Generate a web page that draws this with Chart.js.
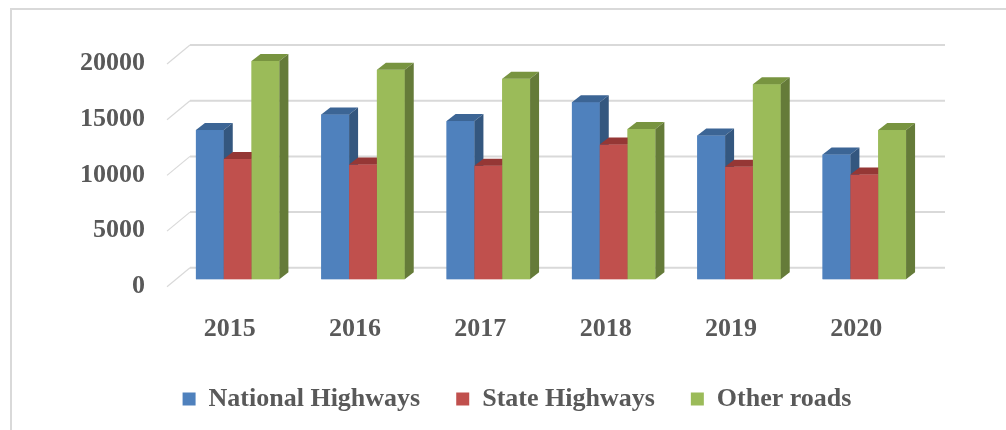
<!DOCTYPE html>
<html>
<head>
<meta charset="utf-8">
<script src="https://cdn.jsdelivr.net/npm/chart.js@4/dist/chart.umd.min.js"></script>
<style>
    html, body { margin: 0; padding: 0; background: #ffffff; }
    #wrap { position: relative; width: 1006px; height: 430px; overflow: hidden; }
    #frame {
        position: absolute; left: 10px; top: 8px; right: -4px; bottom: -4px;
        border-top: 2px solid #d9d9d9; border-left: 2px solid #d9d9d9;
    }
    canvas { position: absolute; left: 0; top: 0; }
</style>
</head>
<body>
<div id="wrap">
    <div id="frame"></div>
    <canvas id="roadChart" width="1006" height="430"></canvas>
</div>
<script>
const years = ['2015', '2016', '2017', '2018', '2019', '2020'];
const seriesNames = ['National Highways', 'State Highways', 'Other roads'];
const nationalHighways = [13400, 14800, 14200, 15900, 12900, 11200];
const stateHighways = [10800, 10300, 10200, 12100, 10100, 9400];
const otherRoads = [19600, 18800, 18000, 13500, 17500, 13400];
const yTicks = [0, 5000, 10000, 15000, 20000];

const frontColors = ['#4f81bd', '#c0504d', '#9bbb59'];
const topColors = ['#3c6595', '#953735', '#789440'];
const sideColors = ['#34577f', '#8a3533', '#657b39'];
const textColor = '#595959';
const gridColor = '#d9d9d9';

// depth of the fake 3D look
const depthX = 9;
const depthY = 7;

// back wall grid + diagonal floor edges
const wallGrid = {
    id: 'wallGrid',
    beforeDatasetsDraw(chart) {
        const { ctx, chartArea, scales } = chart;
        ctx.save();
        ctx.strokeStyle = gridColor;
        yTicks.forEach(v => {
            const yp = scales.y.getPixelForValue(v);
            ctx.lineWidth = 2;
            ctx.beginPath();
            ctx.moveTo(chartArea.left + 15, yp - 11.5);
            ctx.lineTo(chartArea.right + 18, yp - 11.5);
            ctx.stroke();
            ctx.lineWidth = 1.2;
            ctx.beginPath();
            ctx.moveTo(chartArea.left - 8, yp + 7.5);
            ctx.lineTo(chartArea.left + 15, yp - 11.5);
            ctx.stroke();
        });
        ctx.restore();
    }
};

// chart.js paints datasets last-to-first, so repaint each bar here
// in series order with its top and side faces
const barFaces = {
    id: 'barFaces',
    afterDatasetsDraw(chart) {
        const ctx = chart.ctx;
        ctx.save();
        chart.data.datasets.forEach((ds, i) => {
            const meta = chart.getDatasetMeta(i);
            meta.data.forEach(bar => {
                const { x, y, base, width } = bar.getProps(['x', 'y', 'base', 'width'], true);
                const left = x - width / 2;
                const right = x + width / 2;
                ctx.fillStyle = frontColors[i];
                ctx.fillRect(left, y, width, base - y);
                ctx.fillStyle = topColors[i];
                ctx.beginPath();
                ctx.moveTo(left, y);
                ctx.lineTo(left + depthX, y - depthY);
                ctx.lineTo(right + depthX, y - depthY);
                ctx.lineTo(right, y);
                ctx.closePath();
                ctx.fill();
                ctx.fillStyle = sideColors[i];
                ctx.beginPath();
                ctx.moveTo(right, y);
                ctx.lineTo(right + depthX, y - depthY);
                ctx.lineTo(right + depthX, base - depthY);
                ctx.lineTo(right, base);
                ctx.closePath();
                ctx.fill();
            });
        });
        ctx.restore();
    }
};

const serifBold = { family: "'Liberation Serif', 'Times New Roman', serif", size: 26, weight: 'bold' };

new Chart(document.getElementById('roadChart'), {
    type: 'bar',
    data: {
        labels: years,
        datasets: [
            { label: seriesNames[0], data: nationalHighways, backgroundColor: frontColors[0] },
            { label: seriesNames[1], data: stateHighways, backgroundColor: frontColors[1] },
            { label: seriesNames[2], data: otherRoads, backgroundColor: frontColors[2] }
        ]
    },
    options: {
        responsive: false,
        animation: false,
        categoryPercentage: 0.666,
        barPercentage: 1,
        layout: { padding: { left: 28, right: 0, top: 56.5, bottom: 8 } },
        plugins: {
            legend: {
                position: 'bottom',
                labels: {
                    boxWidth: 13,
                    boxHeight: 13,
                    padding: 36,
                    font: serifBold,
                    color: textColor
                }
            },
            tooltip: { enabled: false }
        },
        scales: {
            x: {
                grid: { display: false, drawTicks: false },
                border: { display: false },
                ticks: { font: serifBold, color: textColor, padding: 34, labelOffset: -8 },
                afterFit(scale) { scale.height = 70.7; }
            },
            y: {
                min: 0,
                max: 20000,
                grid: { display: false, drawTicks: false },
                border: { display: false },
                ticks: {
                    stepSize: 5000, font: serifBold, color: textColor, padding: 30, labelOffset: 7,
                    callback: v => String(v)
                },
                afterFit(scale) { scale.width = 147; }
            },
            // empty axis, only keeps room on the right
            yRight: {
                position: 'right',
                grid: { display: false, drawTicks: false },
                border: { display: false },
                ticks: { display: false },
                afterFit(scale) { scale.width = 79; }
            }
        }
    },
    plugins: [wallGrid, barFaces]
});
</script>
</body>
</html>
